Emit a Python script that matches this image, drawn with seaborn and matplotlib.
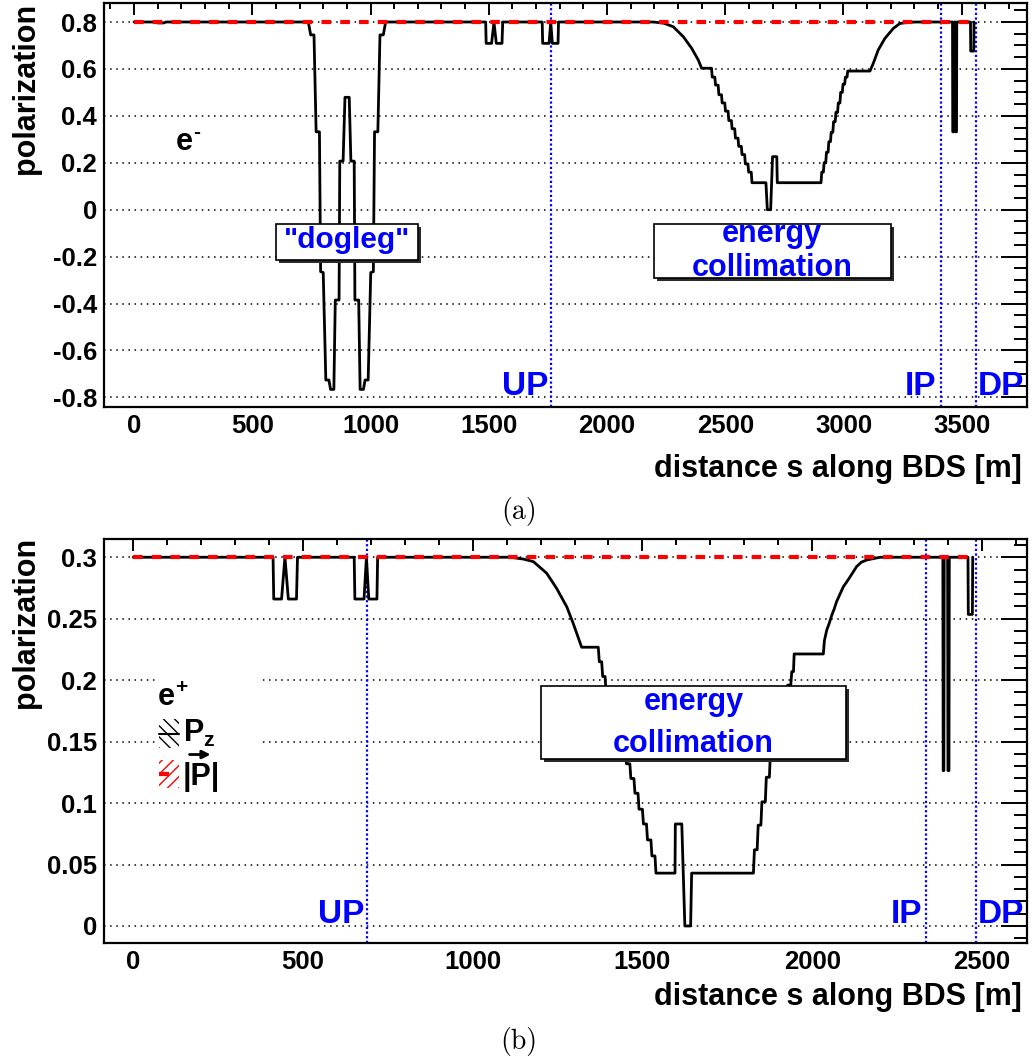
import matplotlib
matplotlib.use("Agg")
import matplotlib.pyplot as plt
import matplotlib.ticker as mticker
from matplotlib.patches import Rectangle
from matplotlib.transforms import offset_copy
import pandas as pd
import seaborn as sns

# ---------------- electron beam delivery system (a) ----------------
s_em = [0, 95, 100, 125, 135,
        737, 747, 761, 770, 784, 789, 800, 811, 824, 831, 845, 851, 867, 870, 884,
        892, 910, 917, 931, 934, 950, 956, 970, 977, 990, 1001, 1012, 1017, 1031,
        1040, 1054, 1064,
        1487, 1489, 1512, 1522, 1532, 1556, 1559,
        1726, 1728, 1755, 1762, 1769, 1793, 1795,
        2196, 2240, 2280, 2323, 2358, 2386, 2400, 2442,
        2445, 2456, 2459, 2470, 2473, 2484, 2487, 2498, 2501, 2512, 2515, 2526,
        2529, 2540, 2543, 2554, 2557, 2568, 2571, 2582, 2585, 2596, 2599, 2610,
        2613, 2672, 2678, 2692, 2700, 2718, 2720, 2905,
        2908, 2915, 2918, 2925, 2928, 2935, 2938, 2945, 2948, 2955, 2958, 2965,
        2968, 2975, 2978, 2985, 2988, 2995, 2998, 3005, 3008, 3015, 3018, 3112,
        3126, 3147, 3175, 3211, 3239, 3280, 3310,
        3461, 3462, 3467, 3468, 3472, 3473, 3478, 3479,
        3537, 3538, 3551, 3552]
pz_em = [0.8, 0.8, 0.796, 0.796, 0.8,
         0.8, 0.745, 0.745, 0.332, 0.332, -0.264, -0.268, -0.726, -0.726, -0.766,
         -0.766, -0.385, -0.385, 0.207, 0.207,
         0.479, 0.479, 0.207, 0.207, -0.385, -0.385, -0.766, -0.766, -0.726, -0.726,
         -0.268, -0.264, 0.332, 0.332,
         0.745, 0.745, 0.8,
         0.8, 0.709, 0.709, 0.8, 0.709, 0.709, 0.8,
         0.8, 0.709, 0.709, 0.8, 0.709, 0.709, 0.8,
         0.8, 0.795, 0.780, 0.737, 0.688, 0.638, 0.603, 0.603,
         0.565, 0.565, 0.531, 0.531, 0.490, 0.490, 0.455, 0.455, 0.420, 0.420,
         0.380, 0.380,
         0.345, 0.345, 0.305, 0.305, 0.270, 0.270, 0.235, 0.235, 0.195, 0.195,
         0.160, 0.160,
         0.115, 0.115, 0.0, 0.0, 0.226, 0.226, 0.115, 0.115,
         0.160, 0.160, 0.200, 0.200, 0.245, 0.245, 0.290, 0.290, 0.330, 0.330,
         0.375, 0.375,
         0.415, 0.415, 0.455, 0.455, 0.500, 0.500, 0.535, 0.535, 0.565, 0.565,
         0.591, 0.591,
         0.624, 0.681, 0.730, 0.773, 0.794, 0.799, 0.8,
         0.8, 0.332, 0.332, 0.8, 0.8, 0.332, 0.332, 0.8,
         0.8, 0.676, 0.676, 0.8]
s_em_abs = [0, 3552]
p_em_abs = [0.8, 0.8]
em_points = ["UP", "IP", "DP"]
em_points_s = [1763, 3411, 3560]

# ---------------- positron beam delivery system (b) ----------------
s_ep = [0, 412, 414, 437, 447, 457, 481, 484,
        651, 653, 680, 687, 694, 718, 720,
        1110, 1150, 1179, 1218, 1247, 1277, 1296, 1321, 1370,
        1373, 1380, 1383, 1390, 1393, 1400, 1403, 1412, 1415, 1425, 1428, 1437,
        1440, 1450, 1453, 1463, 1466, 1475, 1478, 1487, 1490, 1500, 1503, 1512,
        1515, 1525, 1528, 1537, 1540, 1596,
        1597, 1616, 1625, 1642, 1645, 1827,
        1830, 1838, 1841, 1849, 1852, 1862, 1865, 1874, 1877, 1886, 1889, 1898,
        1901, 1910, 1913, 1925, 1928, 1937, 1940, 1945, 1947, 2033,
        2036, 2043, 2050, 2058, 2065, 2072, 2082, 2092, 2102, 2112, 2131, 2145,
        2161, 2200,
        2385, 2386, 2388, 2389, 2399, 2400, 2403, 2404,
        2459, 2460, 2472, 2473]
pz_ep = [0.3, 0.3, 0.266, 0.266, 0.3, 0.266, 0.266, 0.3,
         0.3, 0.266, 0.266, 0.3, 0.266, 0.266, 0.3,
         0.3, 0.2985, 0.2964, 0.287, 0.2748, 0.2598, 0.2463, 0.2268, 0.2268,
         0.215, 0.215, 0.203, 0.203, 0.190, 0.190, 0.178, 0.178, 0.166, 0.166,
         0.155, 0.155,
         0.143, 0.143, 0.132, 0.132, 0.120, 0.120, 0.108, 0.108, 0.095, 0.095,
         0.083, 0.083,
         0.070, 0.070, 0.057, 0.057, 0.043, 0.043,
         0.083, 0.083, 0.0, 0.0, 0.043, 0.043,
         0.062, 0.062, 0.082, 0.082, 0.101, 0.101, 0.121, 0.121, 0.140, 0.140,
         0.158, 0.158,
         0.175, 0.175, 0.185, 0.185, 0.196, 0.196, 0.207, 0.207, 0.2213, 0.2213,
         0.232, 0.2408, 0.246, 0.253, 0.258, 0.2639, 0.270, 0.2761, 0.280, 0.2842,
         0.2924, 0.296,
         0.2978, 0.3,
         0.3, 0.1264, 0.1264, 0.3, 0.3, 0.1264, 0.1264, 0.3,
         0.3, 0.2535, 0.2535, 0.3]
s_ep_abs = [0, 2473]
p_ep_abs = [0.3, 0.3]
ep_points = ["UP", "IP", "DP"]
ep_points_s = [688, 2336, 2483]

# ---------------- style ----------------
sns.set_theme(style="white")
plt.rcParams["font.family"] = ["Liberation Sans", "DejaVu Sans"]
plt.rcParams["font.weight"] = "bold"
plt.rcParams["axes.unicode_minus"] = False
plt.rcParams["mathtext.fontset"] = "custom"
plt.rcParams["mathtext.rm"] = "Liberation Sans:bold"
plt.rcParams["mathtext.bf"] = "Liberation Sans:bold"
plt.rcParams["mathtext.it"] = "Liberation Sans:bold"
plt.rcParams["hatch.linewidth"] = 1.0
for key in ["text.color", "axes.labelcolor", "xtick.color", "ytick.color",
            "axes.edgecolor"]:
    plt.rcParams[key] = "black"

BLUE = "#0000ff"
W, H = 1032, 1064
fig = plt.figure(figsize=(W / 100, H / 100), dpi=100)


def px_axes(left, top, right, bottom):
    return fig.add_axes([left / W, 1 - bottom / H, (right - left) / W, (bottom - top) / H])


def fmt(v, _):
    v = round(v, 4)
    if v == 0:
        return "0"
    return f"{v:g}"


def draw_panel(ax, s, pz, s_abs, p_abs, names, pos, xlim, ylim, ymaj, ymin,
               label_off, label_y):
    ax.set_axisbelow(True)
    df = pd.DataFrame({"s": s, "pz": pz})
    dfa = pd.DataFrame({"s": s_abs, "p": p_abs})
    sns.lineplot(data=df, x="s", y="pz", sort=False, estimator=None, color="black",
                 linewidth=2.0, ax=ax, legend=False)
    ax.lines[-1].set_zorder(3)
    sns.lineplot(data=dfa, x="s", y="p", sort=False, estimator=None, color="#ff0000",
                 linewidth=3.0, ax=ax, legend=False)
    red = ax.lines[-1]
    red.set_zorder(4)
    red.set_linewidth(3.0)
    red.set_linestyle((0, (2.3, 2.2)))
    for name, x, off in zip(names, pos, label_off):
        ax.axvline(x, color=BLUE, lw=1.6, linestyle=(0, (1, 1.1)), zorder=2)
        ha = "left" if off > 0 else "right"
        ax.annotate(name, xy=(x, label_y), xycoords="data",
                    xytext=(off, 0), textcoords="offset points", ha=ha,
                    va="baseline", color=BLUE, fontsize=24, fontweight="bold",
                    zorder=10)
    ax.set_xlim(*xlim)
    ax.set_ylim(*ylim)
    ax.xaxis.set_major_locator(mticker.MultipleLocator(500))
    ax.xaxis.set_minor_locator(mticker.MultipleLocator(100))
    ax.yaxis.set_major_locator(mticker.MultipleLocator(ymaj))
    ax.yaxis.set_minor_locator(mticker.MultipleLocator(ymin))
    ax.yaxis.set_major_formatter(mticker.FuncFormatter(fmt))
    ax.xaxis.set_major_formatter(mticker.FuncFormatter(fmt))
    ax.tick_params(which="both", direction="in", top=True, right=True, width=1.4,
                   color="black", labelcolor="black", labelsize=18.5, pad=5)
    ax.tick_params(axis="x", which="major", length=8.6)
    ax.tick_params(axis="x", which="minor", length=4.3)
    ax.tick_params(axis="y", which="major", length=18.7)
    ax.tick_params(axis="y", which="minor", length=9.4)
    ax.yaxis.grid(True, which="major", color="black", lw=1.1,
                  linestyle=(0, (1, 3.0)))
    ax.xaxis.grid(False)
    for sp in ax.spines.values():
        sp.set_linewidth(1.6)
        sp.set_color("black")
    ax.set_xlabel("")
    ax.set_ylabel("")


def note_box(ax, x0, x1, y0, y1):
    shadow = Rectangle((x0, y0), x1 - x0, y1 - y0,
                       transform=offset_copy(ax.transData, fig=fig, x=3, y=-3, units="dots"),
                       facecolor="#2a2a2a", edgecolor="none", zorder=6)
    box = Rectangle((x0, y0), x1 - x0, y1 - y0, facecolor="white",
                    edgecolor="black", lw=1.2, zorder=7)
    ax.add_patch(shadow)
    ax.add_patch(box)


def particle(ax, x, y, sign):
    ax.text(x, y, "e", ha="left", va="baseline", fontsize=22,
            fontweight="bold", zorder=8)
    ax.annotate(sign, xy=(x, y), xycoords="data", xytext=(12.5, 8.5),
                textcoords="offset points", ha="left", va="baseline",
                fontsize=15, fontweight="bold", zorder=8)


# ---- panel (a) ----
ax1 = px_axes(104, 3, 1027, 407)
draw_panel(ax1, s_em, pz_em, s_em_abs, p_em_abs, em_points, em_points_s,
           (-127, 3776), (-0.841, 0.881), 0.2, 0.05, [-2, -3, 1.5], -0.79)
note_box(ax1, 599, 1201, -0.2145, -0.061)
ax1.text(900, -0.129, '"dogleg"', ha="center", va="center", color=BLUE,
         fontsize=21.5, fontweight="bold", zorder=8)
note_box(ax1, 2199, 3200, -0.2925, -0.061)
ax1.text(2698, -0.1365, "energy", ha="center", va="baseline", color=BLUE,
         fontsize=22, fontweight="bold", zorder=8)
ax1.text(2698, -0.2827, "collimation", ha="center", va="baseline", color=BLUE,
         fontsize=22, fontweight="bold", zorder=8)
particle(ax1, 178, 0.254, "-")
ax1.text(0.9946, -0.173, "distance s along BDS [m]", transform=ax1.transAxes,
         ha="right", va="baseline", fontsize=22, fontweight="bold")
ax1.text(-0.1008, 1.0, "polarization", transform=ax1.transAxes, rotation=90,
         ha="left", va="top", fontsize=22, fontweight="bold")

# ---- panel (b) ----
ax2 = px_axes(104, 539.3, 1026.7, 942.7)
draw_panel(ax2, s_ep, pz_ep, s_ep_abs, p_ep_abs, ep_points, ep_points_s,
           (-86, 2632), (-0.0136, 0.3146), 0.05, 0.01, [-2, -3, 1.5], 0.0027)
note_box(ax2, 1200, 2100, 0.1356, 0.1953)
ax2.text(1650, 0.1758, "energy", ha="center", va="baseline", color=BLUE,
         fontsize=22, fontweight="bold", zorder=8)
ax2.text(1650, 0.1418, "collimation", ha="center", va="baseline", color=BLUE,
         fontsize=22, fontweight="bold", zorder=8)

# legend area
ax2.add_patch(Rectangle((64, 0.105), 314, 0.11, facecolor="white",
                        edgecolor="none", zorder=1.5))
ax2.add_patch(Rectangle((76, 0.1448), 59, 0.0236, facecolor="none",
                        edgecolor="black", hatch="\\\\\\", lw=0, zorder=5))
ax2.plot([76, 135], [0.1565, 0.1565], color="black", lw=1.5, zorder=5)
ax2.add_patch(Rectangle((76, 0.1123), 59, 0.0229, facecolor="none",
                        edgecolor="#ff0000", hatch="///", lw=0, zorder=5))
ax2.plot([76, 104], [0.1237, 0.1237], color="#ff0000", lw=3.0, zorder=5,
         solid_capstyle="butt")
particle(ax2, 73, 0.18, "+")
ax2.text(146, 0.15, r"$P_{z}$", ha="left", va="baseline", fontsize=22, zorder=8)
ax2.text(146, 0.1147, "|P|", ha="left", va="baseline", fontsize=22,
         fontweight="bold", zorder=8)
ax2.annotate("", xy=(228, 0.1395), xytext=(166, 0.1395), xycoords="data",
             textcoords="data",
             arrowprops=dict(arrowstyle="-|>", color="black", lw=2.0,
                             mutation_scale=12, shrinkA=0, shrinkB=0), zorder=8)
ax2.text(0.9946, -0.1544, "distance s along BDS [m]", transform=ax2.transAxes,
         ha="right", va="baseline", fontsize=22, fontweight="bold")
ax2.text(-0.1008, 1.006, "polarization", transform=ax2.transAxes, rotation=90,
         ha="left", va="top", fontsize=22, fontweight="bold")

# captions
fig.text(519 / W, 1 - 511 / H, "(a)", family="cmr10", fontweight="normal",
         fontsize=20, ha="center", va="center")
fig.text(519 / W, 1 - 1042 / H, "(b)", family="cmr10", fontweight="normal",
         fontsize=20, ha="center", va="center")

fig.savefig("out.png", dpi=100)
